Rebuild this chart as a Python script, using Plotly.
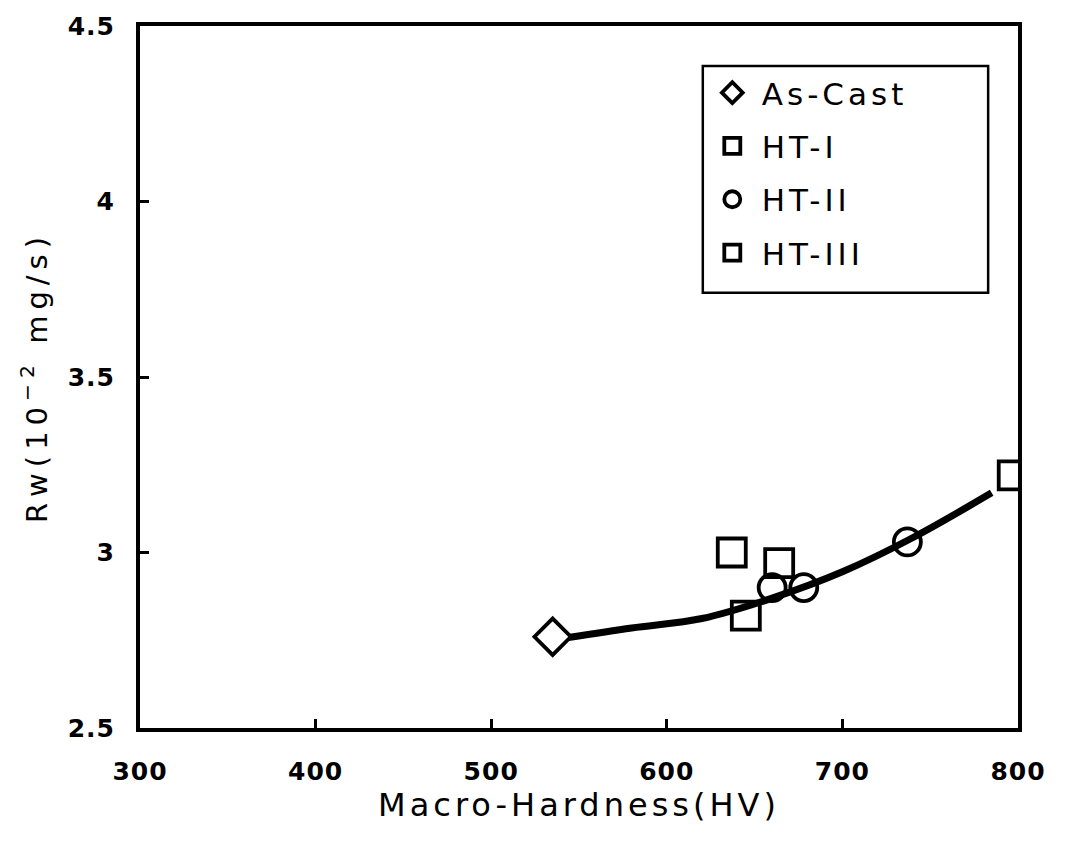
import plotly.graph_objects as go

# Measured wear rate vs. macro-hardness for each condition
as_cast_hv = [535]
as_cast_rw = [2.76]

ht1_hv = [637, 664]
ht1_rw = [3.00, 2.97]

ht2_hv = [660, 678, 737]
ht2_rw = [2.90, 2.90, 3.03]

ht3_hv = [645, 797]
ht3_rw = [2.82, 3.22]

# Trend curve through the data
trend_hv = [544, 580, 620, 660, 700, 740, 785]
trend_rw = [2.758, 2.785, 2.812, 2.870, 2.945, 3.042, 3.170]

x_ticks = [300, 400, 500, 600, 700, 800]
y_ticks = [2.5, 3, 3.5, 4, 4.5]
y_tick_text = ["2.5", "3", "3.5", "4", "4.5"]

font_family = "DejaVu Sans, Verdana, sans-serif"

fig = go.Figure()

fig.add_trace(go.Scatter(
    x=trend_hv, y=trend_rw, mode="lines",
    line=dict(color="black", width=7, shape="spline"),
    showlegend=False, hoverinfo="skip",
))

marker_line = dict(color="black", width=3.8)
series = [
    ("As-Cast", as_cast_hv, as_cast_rw, "diamond-open", 28),
    ("HT-I", ht1_hv, ht1_rw, "square-open", 28),
    ("HT-II", ht2_hv, ht2_rw, "circle-open", 27),
    ("HT-III", ht3_hv, ht3_rw, "square-open", 28),
]
for i, (name, xs, ys, sym, size) in enumerate(series):
    fig.add_trace(go.Scatter(
        x=xs, y=ys, mode="markers", name=name, legendgroup=f"g{i}",
        marker=dict(symbol=sym, size=size, color="black", line=marker_line),
    ))

axis_common = dict(
    showline=True, linecolor="black", linewidth=4, mirror=True,
    ticks="inside", ticklen=9, tickwidth=3, tickcolor="black",
    showgrid=False, zeroline=False,
    tickfont=dict(family=font_family, size=25, color="black", weight="bold"),
)

fig.update_xaxes(
    range=[300, 800], tickvals=x_ticks, ticklabelstandoff=18,
    title_text="Macro-Hardness(HV)", title_standoff=6,
    title_font=dict(family=font_family, size=32, color="black"),
    **axis_common,
)
fig.update_yaxes(
    range=[2.5, 4.5], tickvals=y_ticks, ticktext=y_tick_text,
    ticklabelstandoff=16,
    title_text="Rw(10<sup>−2</sup> mg/s)", title_standoff=16,
    title_font=dict(family=font_family, size=29, color="black"),
    **axis_common,
)

# Legend frame drawn as a rectangle in paper coordinates
fig.add_shape(
    type="rect", xref="paper", yref="paper",
    x0=0.641, x1=0.966, y0=0.620, y1=0.943,
    line=dict(color="black", width=2.5), fillcolor="white", layer="below",
)

fig.update_layout(
    width=1072, height=851,
    margin=dict(l=140, r=54, t=22, b=123),
    paper_bgcolor="white", plot_bgcolor="white",
    font=dict(family=font_family, color="black"),
    legend=dict(
        x=0.641, y=0.943, xanchor="left", yanchor="top",
        borderwidth=0, bgcolor="rgba(0,0,0,0)",
        font=dict(family=font_family, size=31, color="black"),
        tracegroupgap=10, itemwidth=49,
        itemsizing="trace",
    ),
)

# Wide letter spacing for the labels, applied once the plot is drawn
spacing_js = """
var gd = document.getElementById('{plot_id}');
function spread(sel, v) {
  gd.querySelectorAll(sel).forEach(function (t) { t.style.letterSpacing = v; });
}
spread('.xtitle', '4px');
spread('.ytitle', '6px');
spread('.legendtext', '4px');
spread('.xtick text', '1px');
spread('.ytick text', '1px');
gd.querySelectorAll('.legend [clip-path]').forEach(function (el) {
  el.removeAttribute('clip-path');
});
"""

fig.write_html("out.html", post_script=spacing_js)
